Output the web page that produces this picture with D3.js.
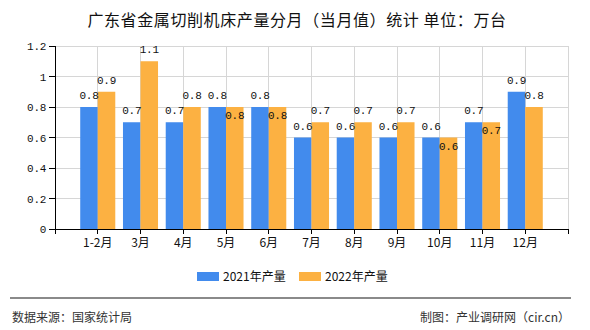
<!DOCTYPE html>
<html><head><meta charset="utf-8">
<script src="https://cdn.jsdelivr.net/npm/d3@7"></script>
<style>
html,body{margin:0;padding:0;background:#fff;}
svg{display:block;}
</style></head>
<body>
<svg id="c" width="590" height="330"></svg>
<script>
const categories = ["1-2月","3月","4月","5月","6月","7月","8月","9月","10月","11月","12月"];
const series2021 = [0.8,0.7,0.7,0.8,0.8,0.6,0.6,0.6,0.6,0.7,0.9];
const series2022 = [0.9,1.1,0.8,0.8,0.8,0.7,0.7,0.7,0.6,0.7,0.8];
const seriesNames = ["2021年产量","2022年产量"];
const yTickValues = [0,0.2,0.4,0.6,0.8,1.0,1.2];
const yTickLabels = ["0","0.2","0.4","0.6","0.8","1","1.2"];
const titleText = "广东省金属切削机床产量分月（当月值）统计 单位：万台";
const sourceText = "数据来源：国家统计局";
const makerText = "制图：产业调研网（cir.cn）";

const colors = ["#428bed","#fcb142"];
const cjk = "'Noto Sans CJK SC','Noto Sans',sans-serif";
const mono = "'Liberation Mono','DejaVu Sans Mono',monospace";

const svg = d3.select("#c");
const L = 55, R = 568, T = 46, B = 229;
const x = d3.scaleLinear().domain([0, categories.length + 1]).range([L, R]);
const y = d3.scaleLinear().domain([0, 1.2]).range([B, T]);
const step = x(1) - x(0);
const bw = step * 0.41;

// title
svg.append("text").attr("x", 297).attr("y", 26).attr("text-anchor","middle")
  .attr("font-family", cjk).attr("font-size", 16).attr("letter-spacing", 0.6)
  .attr("fill","#111").text(titleText);

// grid
const g = svg.append("g");
g.selectAll(".hg").data(yTickValues).enter().append("line")
  .attr("x1", L).attr("x2", R).attr("y1", d=>y(d)).attr("y2", d=>y(d))
  .attr("stroke","#d6d6d6").attr("stroke-width",1).attr("shape-rendering","crispEdges");
g.selectAll(".vg").data(d3.range(1, categories.length + 2)).enter().append("line")
  .attr("x1", d=>x(d)).attr("x2", d=>x(d)).attr("y1", T).attr("y2", B)
  .attr("stroke","#d6d6d6").attr("stroke-width",1).attr("shape-rendering","crispEdges");

// bars
const all = [series2021, series2022];
all.forEach((s, k) => {
  svg.append("g").selectAll("rect").data(s).enter().append("rect")
    .attr("x", (d,i) => k === 0 ? x(i+1) - bw : x(i+1))
    .attr("width", bw)
    .attr("y", d => y(d))
    .attr("height", d => B - y(d))
    .attr("fill", colors[k]);
});

// value labels
all.forEach((s, k) => {
  svg.append("g").selectAll("text").data(s).enter().append("text")
    .attr("x", (d,i) => k === 0 ? x(i+1) - bw/2 : x(i+1) + bw/2)
    .attr("y", (d,i) => {
      const inside = k === 1 && series2021[i] === d;
      return inside ? y(d) + 12 : y(d) - 8;
    })
    .attr("text-anchor","middle").attr("font-family", mono).attr("font-size", 11)
    .attr("letter-spacing", -0.3).attr("fill","#111").text(d => d3.format("")(d));
});

// axes
const ax = svg.append("g").attr("stroke","#000").attr("shape-rendering","crispEdges");
ax.append("line").attr("x1", L).attr("x2", R).attr("y1", B).attr("y2", B);
ax.append("line").attr("x1", L).attr("x2", L).attr("y1", T).attr("y2", B);
ax.selectAll(".yt").data(yTickValues).enter().append("line")
  .attr("x1", L - 6).attr("x2", L).attr("y1", d=>y(d)).attr("y2", d=>y(d));
ax.selectAll(".xt").data(d3.range(0, categories.length + 2)).enter().append("line")
  .attr("x1", d=>x(d)).attr("x2", d=>x(d)).attr("y1", B).attr("y2", B + 5);

svg.append("g").selectAll("text").data(yTickValues).enter().append("text")
  .attr("x", L - 9).attr("y", d => y(d) + 4).attr("text-anchor","end")
  .attr("font-family", mono).attr("font-size", 11).attr("letter-spacing", -0.3)
  .attr("fill","#111").text((d,i) => yTickLabels[i]);

svg.append("g").selectAll("text").data(categories).enter().append("text")
  .attr("x", (d,i) => x(i+1)).attr("y", 247).attr("text-anchor","middle")
  .attr("font-family", cjk).attr("font-size", 12).attr("fill","#111").text(d => d);

// legend
const legX = [197, 299];
seriesNames.forEach((n, k) => {
  svg.append("rect").attr("x", legX[k]).attr("y", 272).attr("width", 22).attr("height", 9)
    .attr("fill", colors[k]);
  svg.append("text").attr("x", legX[k] + 26).attr("y", 281)
    .attr("font-family", cjk).attr("font-size", 12).attr("fill","#111").text(n);
});

// footer
svg.append("line").attr("x1", 10).attr("x2", 571).attr("y1", 298).attr("y2", 298)
  .attr("stroke","#8a8a8a").attr("stroke-width",1.5).attr("shape-rendering","crispEdges");
svg.append("text").attr("x", 12).attr("y", 322).attr("font-family", cjk).attr("font-size", 12)
  .attr("fill","#333").text(sourceText);
svg.append("text").attr("x", 570).attr("y", 322).attr("text-anchor","end")
  .attr("font-family", cjk).attr("font-size", 12).attr("fill","#333").text(makerText);
</script>
</body></html>
